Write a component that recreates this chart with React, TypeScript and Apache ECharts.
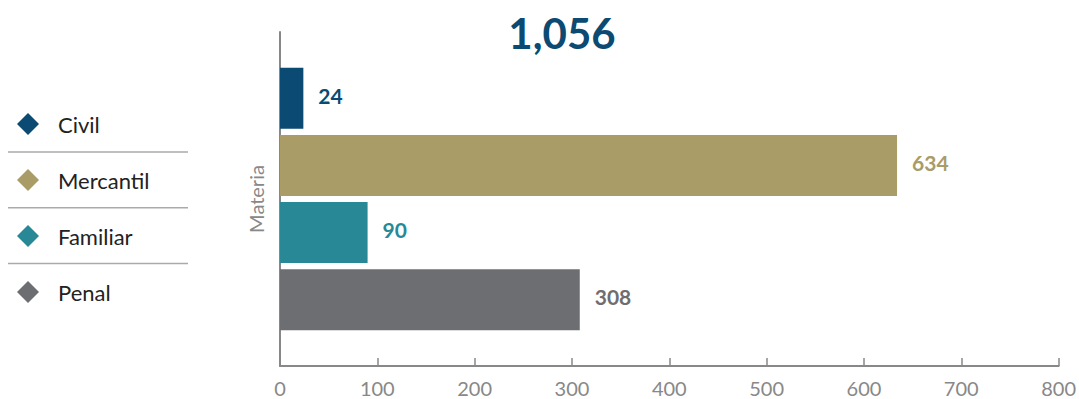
import React, { useEffect, useRef } from "react";
import * as echarts from "echarts";

const categories = ["Materia"];
const seriesNames = ["Civil", "Mercantil", "Familiar", "Penal"];
const seriesValues = [24, 634, 90, 308];
const seriesColors = ["#0b4a72", "#a99c66", "#288896", "#6d6e72"];
const xTicks = [0, 100, 200, 300, 400, 500, 600, 700, 800];

export default function App() {
  const ref = useRef<HTMLDivElement>(null);
  useEffect(() => {
    document.body.style.margin = "0";
    const chart = echarts.init(ref.current!, null, { renderer: "svg" });
    const total = seriesValues.reduce((a, b) => a + b, 0);
    const font = "Lato, 'Noto Sans', sans-serif";
    chart.setOption({
      animation: false,
      title: {
        text: total.toLocaleString("en-US"),
        left: 557,
        top: 7,
        textAlign: "center",
        textStyle: { color: "#0b4a72", fontSize: 42, fontWeight: "bold", fontFamily: font },
      },
      legend: {
        orient: "vertical",
        left: 12,
        top: 108,
        icon: "diamond",
        itemWidth: 22,
        itemHeight: 22,
        itemGap: 34,
        data: seriesNames,
        textStyle: { fontSize: 22, color: "#222", fontFamily: font, padding: [0, 0, 0, 14] },
      },
      graphic: [0, 1, 2].map((i) => ({
        type: "line",
        shape: { x1: 8, y1: 152 + i * 55.7, x2: 188, y2: 152 + i * 55.7 },
        style: { stroke: "#aaa", lineWidth: 1.5 },
      })),
      grid: { left: 280, right: 20, top: 32, bottom: 33 },
      xAxis: {
        type: "value",
        min: 0,
        max: 800,
        interval: 100,
        axisLine: { show: true, lineStyle: { color: "#888", width: 2 } },
        axisTick: { show: true, inside: true, length: 8, lineStyle: { color: "#888", width: 1.5 } },
        splitLine: { show: false },
        axisLabel: {
          color: "#888",
          fontSize: 20,
          margin: 12,
          fontFamily: font,
          formatter: (v: number) => (xTicks.includes(v) ? String(v) : ""),
        },
      },
      yAxis: {
        type: "category",
        data: categories,
        inverse: true,
        axisLine: { show: true, lineStyle: { color: "#888", width: 2 } },
        axisTick: { show: false },
        axisLabel: {
          rotate: 90,
          color: "#888",
          fontSize: 20,
          margin: 14,
          fontFamily: font,
        },
      },
      series: seriesNames.map((name, i) => ({
        type: "bar",
        name,
        data: [seriesValues[i]],
        itemStyle: { color: seriesColors[i] },
        barWidth: 61,
        barGap: "10%",
        label: {
          show: true,
          position: "right",
          distance: 15,
          offset: [0, -3],
          color: seriesColors[i],
          fontSize: 21,
          fontWeight: "bold",
          fontFamily: font,
        },
      })),
    });
    return () => chart.dispose();
  }, []);
  return <div ref={ref} style={{ width: 1079, height: 399 }} />;
}
